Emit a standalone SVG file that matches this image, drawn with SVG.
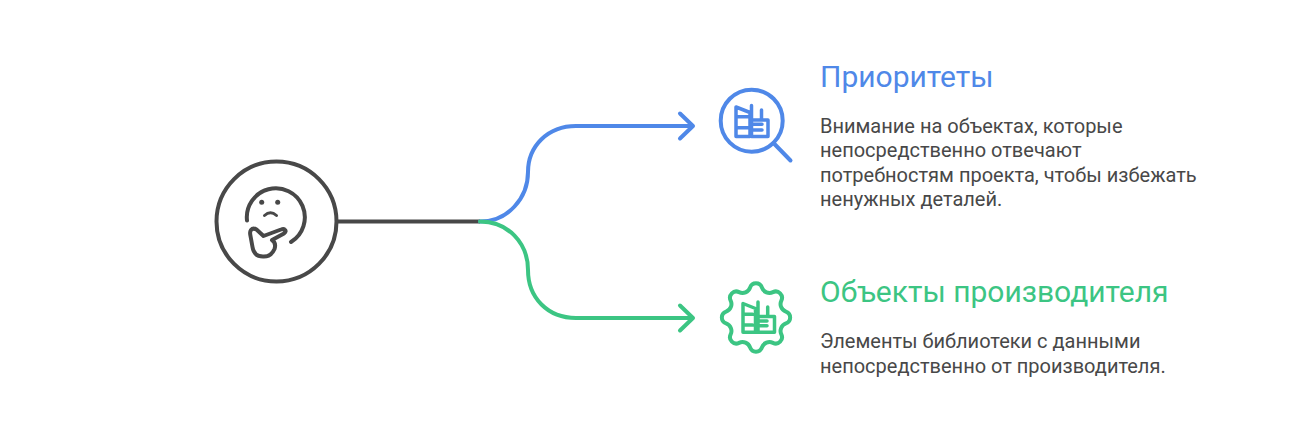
<svg xmlns="http://www.w3.org/2000/svg" width="1308" height="437" viewBox="0 0 1308 437">
<style>
.s{fill:none;stroke-width:4;stroke-linecap:round;stroke-linejoin:round}
.d{stroke:#484848}.b{stroke:#4f88e8}.g{stroke:#3cc583}
.i{stroke-width:3.500}
text{font-family:Roboto,"Liberation Sans",sans-serif}
.t{font-size:30px}.p{font-size:20px;fill:#484848}
</style>
<rect width="1308" height="437" fill="#fff"/>
<g id="connectors">
<path class="s d" style="stroke-linecap:butt" d="M337 221.500H480"/>
<path class="s b" d="M480 221.500C508 221.500 528 198 528 172C528 146 548 126 576 126H692"/>
<path class="s b" d="M680 113.500L693 126L680 138.500"/>
<path class="s g" d="M480 221.500C508 221.500 528 243 528 270C528 298 548 318 576 318H692"/>
<path class="s g" d="M680 305.500L693 318L680 330.500"/>
</g>
<g id="node-root">
<circle class="s d" cx="276.500" cy="221.500" r="60"/>
<path class="s d" d="M247 220.500A29 29 0 1 1 291 242"/>
<circle cx="261.700" cy="202.300" r="2.500" fill="#484848"/>
<circle cx="277.700" cy="202.300" r="2.500" fill="#484848"/>
<path class="s d" style="stroke-width:3" d="M264.500 215.500Q270.500 210 276.500 215.500"/>
<path class="s d" d="M263.500 236L256.500 229.500Q253 227.500 251 230Q249.500 232 250.500 236L252.500 247Q254 256.500 263 256.500Q271 257 274.500 249Q276.500 243 272 240L284 233.500Q287 231 284.500 229.500Q283.500 228.500 281 229.500Z"/>
</g>
<g id="node-priorities">
<circle class="s b" cx="751.700" cy="120.700" r="31"/>
<path class="s b" d="M773.500 143L790.500 160.500"/>
<path class="s b i" d="M736 107L750 112.500V136.500H736ZM751.500 105.500V136.500H768V120H751.500M761.500 110V120M736 116.700H748M736 127.700H748M752 124.300H762M752 130H762"/>
<text class="t" x="820" y="87" fill="#4f88e8">Приоритеты</text>
<text class="p" x="820" y="133">Внимание на объектах, которые</text>
<text class="p" x="820" y="157">непосредственно отвечают</text>
<text class="p" x="820" y="182">потребностям проекта, чтобы избежать</text>
<text class="p" x="820" y="206">ненужных деталей.</text>
</g>
<g id="node-vendor">
<path class="s g" d="M785.920 311.550A6.300 6.300 0 0 1 785.920 323.450A7.960 7.960 0 0 0 781.360 334.450A6.300 6.300 0 0 1 772.950 342.860A7.960 7.960 0 0 0 761.950 347.420A6.300 6.300 0 0 1 750.050 347.420A7.960 7.960 0 0 0 739.050 342.860A6.300 6.300 0 0 1 730.640 334.450A7.960 7.960 0 0 0 726.080 323.450A6.300 6.300 0 0 1 726.080 311.550A7.960 7.960 0 0 0 730.640 300.550A6.300 6.300 0 0 1 739.050 292.140A7.960 7.960 0 0 0 750.050 287.580A6.300 6.300 0 0 1 761.950 287.580A7.960 7.960 0 0 0 772.950 292.140A6.300 6.300 0 0 1 781.360 300.550A7.960 7.960 0 0 0 785.920 311.550Z"/>
<path class="s g i" d="M743 303.500L755.500 308.500V332.300H743ZM758 302V332.300H774.500V316.500H758M767.700 307V316.500M743 314.300H752.500M743 325H752.500M758 321H767M758 325.700H767"/>
<text class="t" x="820" y="302" fill="#3cc583">Объекты производителя</text>
<text class="p" x="820" y="348">Элементы библиотеки с данными</text>
<text class="p" x="820" y="373">непосредственно от производителя.</text>
</g>
</svg>
